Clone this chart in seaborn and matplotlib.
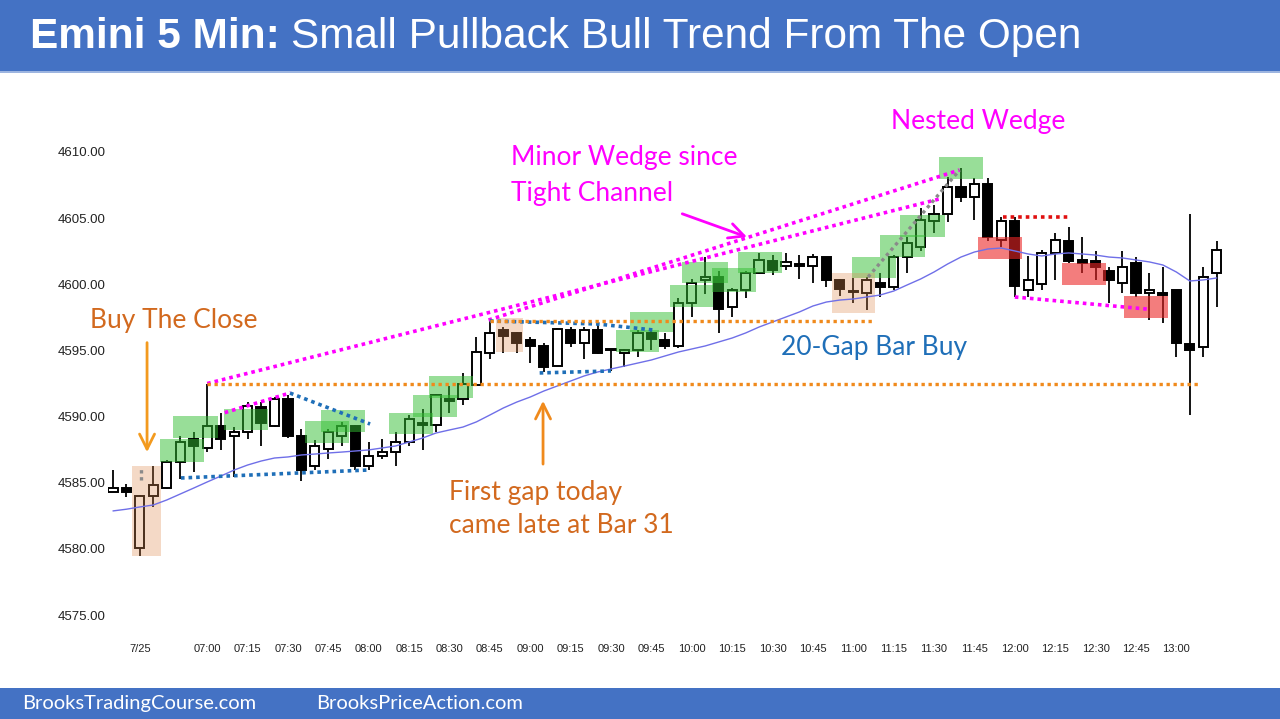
import matplotlib
matplotlib.use("Agg")
import matplotlib.pyplot as plt
from matplotlib.patches import Rectangle
import seaborn as sns
import numpy as np

# ---------------- data ----------------
opens = [4584.3, 4584.6, 4580.1, 4584.0, 4584.6, 4586.6, 4588.3, 4587.6, 4589.3, 4588.5,
         4588.8, 4590.7, 4589.3, 4591.3, 4588.5, 4586.3, 4587.55, 4588.5, 4589.3, 4586.3,
         4587.0, 4587.3, 4588.1, 4589.5, 4589.4, 4591.3, 4591.3, 4592.4, 4594.8, 4596.55,
         4596.3, 4595.8, 4595.3, 4593.8, 4596.55, 4595.56, 4596.55, 4595.1, 4594.8, 4595.0,
         4596.3, 4595.8, 4595.3, 4598.6, 4600.3, 4600.55, 4598.3, 4599.6, 4600.85, 4601.75,
         4601.4, 4601.5, 4601.4, 4602.05, 4600.35, 4599.5, 4599.35, 4600.1, 4599.8, 4602.05,
         4602.8, 4604.8, 4605.3, 4607.35, 4606.6, 4607.6, 4603.35, 4604.8, 4599.6, 4600.0,
         4602.4, 4603.3, 4601.8, 4601.75, 4601.0, 4600.1, 4601.6, 4599.35, 4599.35, 4599.55,
         4595.5, 4595.25, 4600.85]
highs = [4586.0, 4584.9, 4584.1, 4586.3, 4586.7, 4588.5, 4588.8, 4592.5, 4590.3, 4589.2,
         4591.1, 4591.1, 4591.5, 4591.6, 4589.1, 4588.2, 4589.1, 4589.6, 4589.4, 4588.1,
         4588.3, 4588.8, 4590.1, 4590.6, 4591.7, 4592.3, 4593.3, 4596.0, 4597.3, 4596.8,
         4596.4, 4596.0, 4595.6, 4596.7, 4596.8, 4596.8, 4596.9, 4595.1, 4595.1, 4596.55,
         4596.7, 4596.3, 4599.0, 4600.4, 4602.1, 4601.0, 4599.7, 4601.0, 4602.4, 4602.2,
         4602.4, 4602.2, 4602.3, 4602.1, 4600.4, 4600.5, 4600.55, 4600.85, 4602.2, 4603.6,
         4605.8, 4606.0, 4608.1, 4608.8, 4608.0, 4608.0, 4605.1, 4605.1, 4602.15, 4602.6,
         4603.9, 4604.35, 4603.6, 4602.5, 4601.3, 4602.5, 4602.05, 4600.85, 4601.3, 4599.6,
         4605.3, 4601.3, 4603.25]
lows = [4584.3, 4583.9, 4579.5, 4583.2, 4584.5, 4585.3, 4585.8, 4587.3, 4587.5, 4585.4,
        4588.3, 4587.8, 4589.2, 4588.4, 4585.1, 4586.0, 4586.8, 4587.8, 4586.0, 4586.0,
        4586.8, 4586.3, 4587.8, 4587.5, 4588.8, 4590.3, 4590.9, 4592.3, 4594.35, 4594.8,
        4594.8, 4594.05, 4593.4, 4593.8, 4595.26, 4594.35, 4594.7, 4593.45, 4593.75, 4594.5,
        4595.0, 4595.1, 4595.2, 4597.5, 4599.3, 4596.3, 4597.5, 4599.0, 4600.8, 4600.7,
        4601.1, 4600.4, 4600.1, 4599.8, 4599.1, 4598.6, 4598.05, 4599.05, 4599.55, 4600.85,
        4602.5, 4603.9, 4604.7, 4606.2, 4604.85, 4603.3, 4602.8, 4599.05, 4599.05, 4599.6,
        4600.35, 4601.6, 4600.85, 4600.35, 4598.6, 4599.35, 4599.05, 4597.3, 4597.1, 4594.5,
        4590.1, 4594.5, 4598.3]
closes = [4584.6, 4584.3, 4584.0, 4584.8, 4586.6, 4588.1, 4587.8, 4589.3, 4588.3, 4588.8,
          4590.8, 4589.5, 4591.3, 4588.5, 4586.0, 4587.8, 4588.8, 4589.3, 4586.3, 4587.0,
          4587.3, 4588.1, 4589.8, 4589.4, 4591.6, 4591.2, 4592.5, 4594.9, 4596.3, 4596.1,
          4595.6, 4595.35, 4593.75, 4596.6, 4595.56, 4596.55, 4594.8, 4595.0, 4595.0, 4596.3,
          4595.9, 4595.3, 4598.6, 4600.1, 4600.55, 4598.1, 4599.6, 4600.85, 4601.85, 4601.1,
          4601.7, 4601.4, 4602.05, 4600.35, 4599.65, 4599.4, 4600.3, 4599.8, 4602.05, 4603.1,
          4604.85, 4605.3, 4607.35, 4606.6, 4607.6, 4603.6, 4604.8, 4599.9, 4600.35, 4602.4,
          4603.35, 4601.75, 4601.6, 4601.3, 4600.35, 4601.3, 4599.35, 4599.55, 4599.2, 4595.55,
          4595.05, 4600.55, 4602.6]
ema20 = [4582.87, 4583.0, 4583.17, 4583.32, 4583.7, 4584.15, 4584.6, 4585.06, 4585.5, 4585.96,
         4586.34, 4586.64, 4586.87, 4586.95, 4587.1, 4587.17, 4587.25, 4587.32, 4587.4, 4587.48,
         4587.63, 4587.78, 4588.08, 4588.38, 4588.76, 4588.99, 4589.21, 4589.6, 4590.12, 4590.65,
         4591.1, 4591.48, 4591.93, 4592.31, 4592.69, 4593.07, 4593.37, 4593.6, 4593.82, 4594.05,
         4594.28, 4594.58, 4594.88, 4595.11, 4595.34, 4595.64, 4595.94, 4596.32, 4596.77, 4597.15,
         4597.53, 4597.91, 4598.36, 4598.66, 4598.81, 4598.89, 4599.04, 4599.19, 4599.49, 4599.95,
         4600.4, 4600.93, 4601.53, 4602.06, 4602.44, 4602.67, 4602.74, 4602.52, 4602.29, 4602.14,
         4602.29, 4602.37, 4602.29, 4602.21, 4602.06, 4601.99, 4601.84, 4601.69, 4601.46, 4600.93,
         4600.25, 4600.33, 4600.48]

# x tick labels: bar index -> label
tick_bars = [2] + list(range(7, 80, 3))
tick_labels = ["7/25", "07:00", "07:15", "07:30", "07:45", "08:00", "08:15", "08:30", "08:45",
               "09:00", "09:15", "09:30", "09:45", "10:00", "10:15", "10:30", "10:45", "11:00",
               "11:15", "11:30", "11:45", "12:00", "12:15", "12:30", "12:45", "13:00"]
y_ticks = [4575, 4580, 4585, 4590, 4595, 4600, 4605, 4610]

# highlight boxes: (bar start, bar end, price low, price high)
green_boxes = [(3.49, 6.76, 4586.57, 4588.31), (4.46, 7.8, 4588.38, 4590.05),
               (8.25, 11.5, 4588.99, 4590.57), (14.26, 17.53, 4588.0, 4589.67),
               (15.45, 18.72, 4588.84, 4590.5), (20.5, 23.77, 4588.7, 4590.27),
               (22.3, 25.56, 4589.97, 4591.63), (23.5, 26.75, 4591.41, 4593.07),
               (37.4, 40.6, 4594.88, 4596.55), (38.4, 41.6, 4596.39, 4597.9),
               (41.4, 44.6, 4598.28, 4599.95), (42.3, 45.7, 4600.1, 4601.69),
               (44.5, 47.8, 4599.42, 4601.23), (46.4, 49.7, 4600.85, 4602.44),
               (54.9, 58.2, 4600.48, 4602.06), (57.0, 60.3, 4602.06, 4603.73),
               (58.5, 61.8, 4603.58, 4605.24), (61.4, 64.6, 4607.96, 4609.62)]
tan_boxes = [(1.41, 3.57, 4579.46, 4586.27), (28.45, 30.46, 4594.88, 4597.45),
             (53.4, 56.6, 4597.83, 4600.85)]
red_boxes = [(64.3, 67.5, 4601.91, 4603.58), (70.5, 73.8, 4599.95, 4601.61),
             (75.1, 78.4, 4597.45, 4599.12)]

# dotted trend lines: ([x...], [price...])
magenta_lines = [([7.0, 61.4], [4592.5, 4606.45]), ([27.9, 62.9], [4597.3, 4608.64]),
                 ([8.3, 13.2], [4590.3, 4591.8]), ([67.0, 76.8], [4599.04, 4598.13])]
blue_lines = [([5.05, 18.9], [4585.36, 4585.96]), ([13.15, 19.1], [4591.78, 4589.44]),
              ([28.0, 36.0, 40.1], [4597.23, 4597.0, 4596.55]), ([31.7, 37.0], [4593.3, 4593.45])]
orange_lines = [([7.0, 80.6], [4592.46, 4592.46]), ([28.0, 56.5], [4597.23, 4597.23])]
red_lines = [([66.1, 71.0], [4605.09, 4605.09])]
gray_lines = [([56.1, 62.9], [4600.55, 4608.64]), ([2.08, 2.08], [4585.2, 4586.3])]

# ---------------- figure ----------------
sns.set_theme(style="white")
plt.rcParams["font.family"] = ["Liberation Sans", "DejaVu Sans"]

W, H = 1280, 719
fig = plt.figure(figsize=(W / 100, H / 100), dpi=100)
fig.patch.set_facecolor("white")

BLUE = "#4472C4"
fig.patches.append(Rectangle((0, 1 - 71 / H), 1, 71 / H, transform=fig.transFigure,
                             facecolor=BLUE, edgecolor="none", zorder=0))
fig.patches.append(Rectangle((0, 1 - 73 / H), 1, 2 / H, transform=fig.transFigure,
                             facecolor="#9db5e0", edgecolor="none", zorder=0))
fig.patches.append(Rectangle((0, 0), 1, 31 / H, transform=fig.transFigure,
                             facecolor=BLUE, edgecolor="none", zorder=0))

ax = fig.add_axes([108 / W, 1 - 640 / H, (1240 - 108) / W, (640 - 85) / H])
ax.set_facecolor("none")
for s in ax.spines.values():
    s.set_visible(False)

idx = np.arange(len(opens))
o = np.array(opens); h = np.array(highs); l = np.array(lows); c = np.array(closes)
bull = c >= o

# wicks
ax.vlines(idx, l, h, color="black", lw=1.3, zorder=2)
# bodies
bottoms = np.minimum(o, c)
heights = np.maximum(np.abs(c - o), 0.12)
ax.bar(idx, heights, bottom=bottoms, width=0.68,
       color=np.where(bull, "white", "black"), edgecolor="black", linewidth=1.4, zorder=3)

# boxes
for x0, x1, y0, y1 in green_boxes:
    ax.add_patch(Rectangle((x0, y0), x1 - x0, y1 - y0, facecolor=(0.2, 0.75, 0.2),
                           alpha=0.5, edgecolor="none", zorder=4))
for x0, x1, y0, y1 in tan_boxes:
    ax.add_patch(Rectangle((x0, y0), x1 - x0, y1 - y0, facecolor=(0.88, 0.55, 0.33),
                           alpha=0.33, edgecolor="none", zorder=4))
for x0, x1, y0, y1 in red_boxes:
    ax.add_patch(Rectangle((x0, y0), x1 - x0, y1 - y0, facecolor=(0.92, 0.15, 0.15),
                           alpha=0.6, edgecolor="none", zorder=4))

# EMA
sns.lineplot(x=idx, y=ema20, ax=ax, color="#6f6fe8", lw=1.0, zorder=5)

dot = (0, (1, 1.1))
for xs, ys in magenta_lines:
    ax.plot(xs, ys, color="#ff00ff", lw=2.6, ls=dot, zorder=6)
for xs, ys in blue_lines:
    ax.plot(xs, ys, color="#1f6fb8", lw=2.6, ls=dot, zorder=6)
for xs, ys in orange_lines:
    ax.plot(xs, ys, color="#f08a1c", lw=2.4, ls=dot, zorder=6)
for xs, ys in red_lines:
    ax.plot(xs, ys, color="#e01010", lw=2.6, ls=dot, zorder=6)
for xs, ys in gray_lines:
    ax.plot(xs, ys, color="#8a8a8a", lw=2.4, ls=dot, zorder=6)

ax.set_xlim(-0.371, 83.73)
ax.set_ylim(4573.114, 4615.064)
ax.set_yticks(y_ticks)
ax.set_yticklabels([f"{v:.2f}" for v in y_ticks], fontsize=9.5, color="#222222")
ax.set_xticks(tick_bars)
ax.set_xticklabels(tick_labels, fontsize=8, color="#222222")
ax.tick_params(axis="both", length=0, pad=3)
ax.tick_params(axis="y", pad=2)
ax.set_xlabel(""); ax.set_ylabel("")
ax.grid(False)

# annotations
AF = ["Lato", "DejaVu Sans"]
ORG_T = "#d2691e"
FS = 19
ax.text(64.3, 4612.3, "Nested Wedge", color="#ff00ff", fontsize=FS, family=AF,
        ha="center", va="center")
ax.text(29.57, 4609.55, "Minor Wedge since", color="#ff00ff", fontsize=FS, family=AF,
        ha="left", va="center")
ax.text(29.57, 4606.9, "Tight Channel", color="#ff00ff", fontsize=FS, family=AF,
        ha="left", va="center")
ax.text(-1.71, 4597.23, "Buy The Close", color=ORG_T, fontsize=FS, family=AF,
        ha="left", va="center")
ax.text(49.63, 4595.19, "20-Gap Bar Buy", color="#1f6fb8", fontsize=FS, family=AF,
        ha="left", va="center")
ax.text(24.96, 4584.3, "First gap today", color=ORG_T, fontsize=FS, family=AF,
        ha="left", va="center")
ax.text(24.96, 4581.8, "came late at Bar 31", color=ORG_T, fontsize=FS, family=AF,
        ha="left", va="center")

arrow_kw = dict(arrowstyle="->,head_length=0.9,head_width=0.45", lw=2.0)
ax.annotate("", xy=(2.53, 4587.1), xytext=(2.53, 4595.8),
            arrowprops=dict(color="#f39a1e", **arrow_kw), zorder=7)
ax.annotate("", xy=(31.95, 4591.4), xytext=(31.95, 4586.2),
            arrowprops=dict(color="#f08a1c", **arrow_kw), zorder=7)
ax.annotate("", xy=(47.3, 4603.5), xytext=(42.1, 4605.4),
            arrowprops=dict(color="#ff00ff", **arrow_kw), zorder=7)

# title
fig.canvas.draw()
r = fig.canvas.get_renderer()
t1 = fig.text(30 / W, 1 - 37 / H, "Emini 5 Min:", color="white", fontsize=30.5,
              fontweight="bold", va="center", ha="left")
bb = t1.get_window_extent(renderer=r)
fig.text((bb.x1 + 11) / W, 1 - 37 / H, "Small Pullback Bull Trend From The Open",
         color="white", fontsize=30.5, va="center", ha="left")

fig.text(22 / W, 15.5 / H, "BrooksTradingCourse.com", color="white", fontsize=14.5,
         family=AF, va="center", ha="left")
fig.text(316 / W, 15.5 / H, "BrooksPriceAction.com", color="white", fontsize=14.5,
         family=AF, va="center", ha="left")

fig.savefig("out.png", dpi=100)
